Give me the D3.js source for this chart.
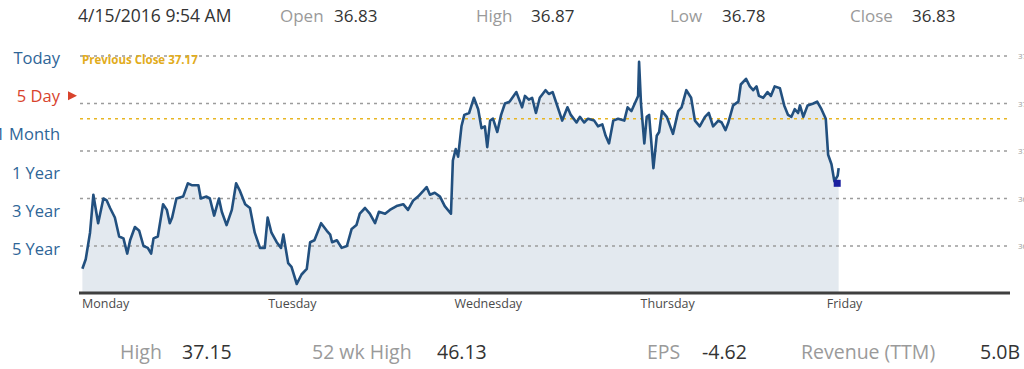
<!DOCTYPE html>
<html>
<head>
<meta charset="utf-8">
<script src="https://cdn.jsdelivr.net/npm/d3@7"></script>
<style>
  body { margin: 0; background: #fff; }
  svg { display: block; font-family: "Open Sans", sans-serif; }
</style>
</head>
<body>
<svg id="chart" width="1024" height="369"></svg>
<script>
// header quote
let quoteTime = "4/15/2016 9:54 AM";
let headerLabels = ["Open", "High", "Low", "Close"];
let headerValues = ["36.83", "36.87", "36.78", "36.83"];

// footer stats
let footerLabels = ["High", "52 wk High", "EPS", "Revenue (TTM)"];
let footerValues = ["37.15", "46.13", "-4.62", "5.0B"];

// range menu
let ranges = ["Today", "5 Day", "1 Month", "1 Year", "3 Year", "5 Year"];
let activeRange = "5 Day";

// x axis: trading minutes since Monday open, 390 per session
let days = ["Monday", "Tuesday", "Wednesday", "Thursday", "Friday"];
let sessionLength = 390;

// y axis
let priceTicks = [36.5, 36.75, 37.0, 37.25, 37.5];
let previousClose = 37.17;
let lastMinute = 1586;
let lastPrice = 36.83;

// intraday series
let minutes = [
  5, 12, 21, 28, 38, 49, 56, 63, 73, 82, 91, 99, 105, 115, 124, 133, 142, 149, 154, 163,
  174, 182, 188, 193, 202, 216, 226, 234, 248, 253, 265, 272, 281, 291, 297, 307, 318, 327, 335, 346,
  356, 366, 377, 387,
  393, 401, 412, 421, 426, 436, 443, 454, 464, 475, 482, 491, 505, 517, 524, 528, 538, 548, 559, 569,
  579, 586, 597, 607, 618, 626, 639, 649, 663, 677, 687, 698, 708, 719, 726, 733, 743, 754, 764, 777,
  781, 787, 792, 799, 805, 815, 825, 834, 841, 848, 853, 859, 865, 874, 882, 890, 900, 914, 926, 932,
  940, 947, 955, 963, 975, 982, 990, 998, 1010, 1021, 1028, 1040, 1047, 1056, 1064, 1077, 1085, 1094, 1101, 1108,
  1117, 1127, 1140, 1147, 1155, 1162, 1169,
  1171, 1175, 1182, 1187, 1192, 1201, 1208, 1213, 1219, 1229, 1242, 1253, 1260, 1270, 1280, 1288, 1298, 1309, 1317, 1326,
  1337, 1344, 1352, 1358, 1368, 1379, 1384, 1395, 1403, 1410, 1417, 1422, 1431, 1440, 1447, 1455, 1466, 1475, 1483, 1490,
  1497, 1504, 1508, 1515, 1524, 1536, 1544, 1553,
  1562, 1567, 1574, 1580, 1587, 1589
];
let prices = [
  36.38, 36.43, 36.57, 36.77, 36.62, 36.75, 36.74, 36.70, 36.65, 36.55, 36.54, 36.46, 36.53, 36.60, 36.58, 36.50, 36.49, 36.46, 36.54, 36.55,
  36.72, 36.69, 36.62, 36.65, 36.75, 36.76, 36.83, 36.82, 36.82, 36.75, 36.76, 36.75, 36.66, 36.75, 36.68, 36.61, 36.69, 36.83, 36.79, 36.72,
  36.70, 36.57, 36.49, 36.49,
  36.65, 36.57, 36.52, 36.49, 36.56, 36.41, 36.39, 36.30, 36.35, 36.38, 36.52, 36.53, 36.62, 36.58, 36.56, 36.52, 36.53, 36.49, 36.50, 36.59,
  36.61, 36.67, 36.70, 36.67, 36.62, 36.68, 36.67, 36.69, 36.71, 36.72, 36.69, 36.74, 36.76, 36.79, 36.81, 36.77, 36.78, 36.76, 36.71, 36.67,
  36.95, 37.01, 36.97, 37.13, 37.19, 37.20, 37.28, 37.22, 37.12, 37.13, 37.02, 37.16, 37.17, 37.10, 37.19, 37.25, 37.26, 37.31, 37.23, 37.29,
  37.27, 37.28, 37.20, 37.28, 37.32, 37.30, 37.31, 37.25, 37.16, 37.23, 37.19, 37.15, 37.18, 37.15, 37.17, 37.16, 37.13, 37.14, 37.08, 37.04,
  37.16, 37.17, 37.16, 37.23, 37.21, 37.25, 37.29,
  37.47, 37.25, 37.04, 37.18, 37.19, 36.91, 37.08, 37.10, 37.21, 37.18, 37.09, 37.21, 37.23, 37.32, 37.28, 37.16, 37.13, 37.18, 37.20, 37.13,
  37.16, 37.15, 37.11, 37.15, 37.24, 37.26, 37.35, 37.38, 37.34, 37.32, 37.34, 37.29, 37.28, 37.31, 37.29, 37.34, 37.33, 37.24, 37.19, 37.18,
  37.22, 37.20, 37.24, 37.18, 37.24, 37.25, 37.26, 37.22,
  37.17, 36.98, 36.93, 36.84, 36.87, 36.91
];

let data = minutes.map((m, i) => ({ m: m, p: prices[i] }));

let svg = d3.select("#chart");

let margin = { left: 80, right: 13, top: 56, bottom: 77 },
  width = 1024 - margin.left - margin.right,
  baseY = 292;

let x_scale = d3.scaleLinear()
  .domain([0, sessionLength * days.length])
  .range([margin.left, margin.left + width]);

let y_scale = d3.scaleLinear()
  .domain([36.5, 37.5])
  .range([246, 56]);

// Header
svg.append("text")
  .attr("x", 78).attr("y", 22)
  .attr("font-size", 17.5).attr("font-weight", 500).attr("fill", "#333")
  .text(quoteTime);

let headerX = [280, 476, 670, 850];
let headerValX = [334, 531, 722, 912];
headerLabels.forEach((d, i) => {
  svg.append("text").attr("x", headerX[i]).attr("y", 22)
    .attr("font-size", 17).attr("fill", "#9a9a9a").text(d);
  svg.append("text").attr("x", headerValX[i]).attr("y", 22)
    .attr("font-size", 17).attr("font-weight", 500).attr("fill", "#333").text(headerValues[i]);
});

// Footer
let footerX = [120, 312, 647, 801];
let footerValX = [182, 437, 702, 980];
footerLabels.forEach((d, i) => {
  svg.append("text").attr("x", footerX[i]).attr("y", 359)
    .attr("font-size", 19.5).attr("fill", "#9a9a9a").text(d);
  svg.append("text").attr("x", footerValX[i]).attr("y", 359)
    .attr("font-size", 19.5).attr("font-weight", 500).attr("fill", "#333").text(footerValues[i]);
});

// Range menu
svg.selectAll(".range")
  .data(ranges)
  .join("text")
  .attr("class", "range")
  .attr("x", 60)
  .attr("y", (d, i) => 64 + i * 38.2)
  .attr("text-anchor", "end")
  .attr("font-size", 16.5)
  .attr("font-weight", 500)
  .attr("fill", d => d === activeRange ? "#d8432c" : "#2e6597")
  .text(d => d);

let ai = ranges.indexOf(activeRange);
let ty = 58 + ai * 38.2 - 0.5;
svg.append("path")
  .attr("d", `M68,${ty - 4.5}L77,${ty}L68,${ty + 4.5}Z`)
  .attr("fill", "#d8432c");

// Area and line
let area = d3.area()
  .x(d => x_scale(d.m))
  .y0(baseY)
  .y1(d => y_scale(d.p));

svg.append("path")
  .datum(data)
  .attr("d", area)
  .attr("fill", "#e3e9ef");

// Grid
svg.selectAll(".grid")
  .data(priceTicks)
  .join("line")
  .attr("class", "grid")
  .attr("x1", margin.left)
  .attr("x2", 1008)
  .attr("y1", d => y_scale(d))
  .attr("y2", d => y_scale(d))
  .attr("stroke", "#9c9c9c")
  .attr("stroke-width", 1.3)
  .attr("stroke-dasharray", "3,4");

svg.selectAll(".ylab")
  .data(priceTicks)
  .join("text")
  .attr("class", "ylab")
  .attr("x", 1018)
  .attr("y", d => y_scale(d) + 3)
  .attr("font-size", 8)
  .attr("fill", "#999")
  .text(d => d.toFixed(2));

// Previous close
svg.append("line")
  .attr("x1", margin.left).attr("x2", 1008)
  .attr("y1", y_scale(previousClose)).attr("y2", y_scale(previousClose))
  .attr("stroke", "#e8b623")
  .attr("stroke-width", 1.6)
  .attr("stroke-dasharray", "3,4");

svg.append("text")
  .attr("x", 82).attr("y", 64)
  .attr("font-size", 11.5).attr("font-weight", 700)
  .attr("fill", "#e2ac1c")
  .text("Previous Close " + previousClose.toFixed(2));

let line = d3.line()
  .x(d => x_scale(d.m))
  .y(d => y_scale(d.p));

svg.append("path")
  .datum(data)
  .attr("d", line)
  .attr("fill", "none")
  .attr("stroke", "#22507f")
  .attr("stroke-width", 2.6)
  .attr("stroke-linejoin", "round");

svg.append("rect")
  .attr("x", x_scale(lastMinute) - 3.5)
  .attr("y", y_scale(lastPrice) - 3.5)
  .attr("width", 7).attr("height", 7)
  .attr("fill", "#1b1fa0");

// X axis
svg.append("line")
  .attr("x1", margin.left - 1).attr("x2", 1010)
  .attr("y1", baseY + 1).attr("y2", baseY + 1)
  .attr("stroke", "#3f3f3f")
  .attr("stroke-width", 3);

svg.selectAll(".day")
  .data(days)
  .join("text")
  .attr("class", "day")
  .attr("x", (d, i) => x_scale(i * sessionLength) + 2)
  .attr("y", 308)
  .attr("font-size", 12.5)
  .attr("fill", "#4a4a4a")
  .text(d => d);
</script>
</body>
</html>
